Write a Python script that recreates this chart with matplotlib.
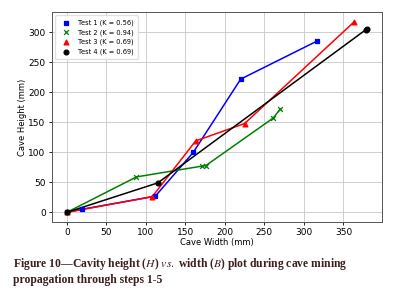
import matplotlib
matplotlib.use("Agg")
import matplotlib.pyplot as plt

plt.rcParams["mathtext.fontset"] = "stix"

# Test data: cave width (mm) vs cave height (mm)
t1_w = [0, 19, 112, 160, 220, 316]
t1_h = [0, 5, 27, 100, 222, 285]
t2_w = [0, 88, 171, 176, 261, 270]
t2_h = [0, 59, 77, 78, 157, 172]
t3_w = [0, 108, 163, 225, 364]
t3_h = [0, 26, 119, 148, 318]
t4_w = [0, 115, 378, 380]
t4_h = [0, 49, 304, 306]

labels = ["Test 1 (K = 0.56)", "Test 2 (K = 0.94)", "Test 3 (K = 0.69)", "Test 4 (K = 0.69)"]
caption = ("Figure 10\u2014Cavity height ($\\mathit{H}$) $\\mathit{vs.}$ width ($\\mathit{B}$) plot during cave mining\n"
           "propagation through steps 1-5")

fig = plt.figure(figsize=(3.96, 2.99), dpi=100)
ax = fig.add_axes([0.131, 0.258, 0.834, 0.702])

series = [(t1_w, t1_h, "blue", "s"), (t2_w, t2_h, "green", "x"),
          (t3_w, t3_h, "red", "^"), (t4_w, t4_h, "black", "o")]
for (w, h, c, m), lab in zip(series, labels):
    ax.plot(w, h, "-", color=c, lw=1.1)
    ax.scatter(w, h, color=c, marker=m, s=12, lw=0.9, label=lab, zorder=3)

ax.set_xticks([0, 50, 100, 150, 200, 250, 300, 350])
ax.set_yticks([0, 50, 100, 150, 200, 250, 300])
ax.tick_params(labelsize=6.5, length=2.5, width=0.6, pad=2)
ax.set_xlabel("Cave Width (mm)", fontsize=6, labelpad=1)
ax.set_ylabel("Cave Height (mm)", fontsize=6, labelpad=1)
ax.grid(True, color="#c8c8c8", lw=0.6)
ax.set_axisbelow(True)
for s in ax.spines.values():
    s.set_color("#555555")
    s.set_linewidth(0.7)

ax.legend(loc="upper left", fontsize=4.8, scatterpoints=1, handletextpad=0.8,
          borderpad=0.6, labelspacing=0.5, framealpha=0.9, edgecolor="#dddddd")

fig.text(0.033, 0.045, caption, fontsize=8.4, family="Liberation Serif", weight="bold",
         color="#3a1f1f", linespacing=1.2, va="bottom")

fig.savefig("out.png", dpi=100)
